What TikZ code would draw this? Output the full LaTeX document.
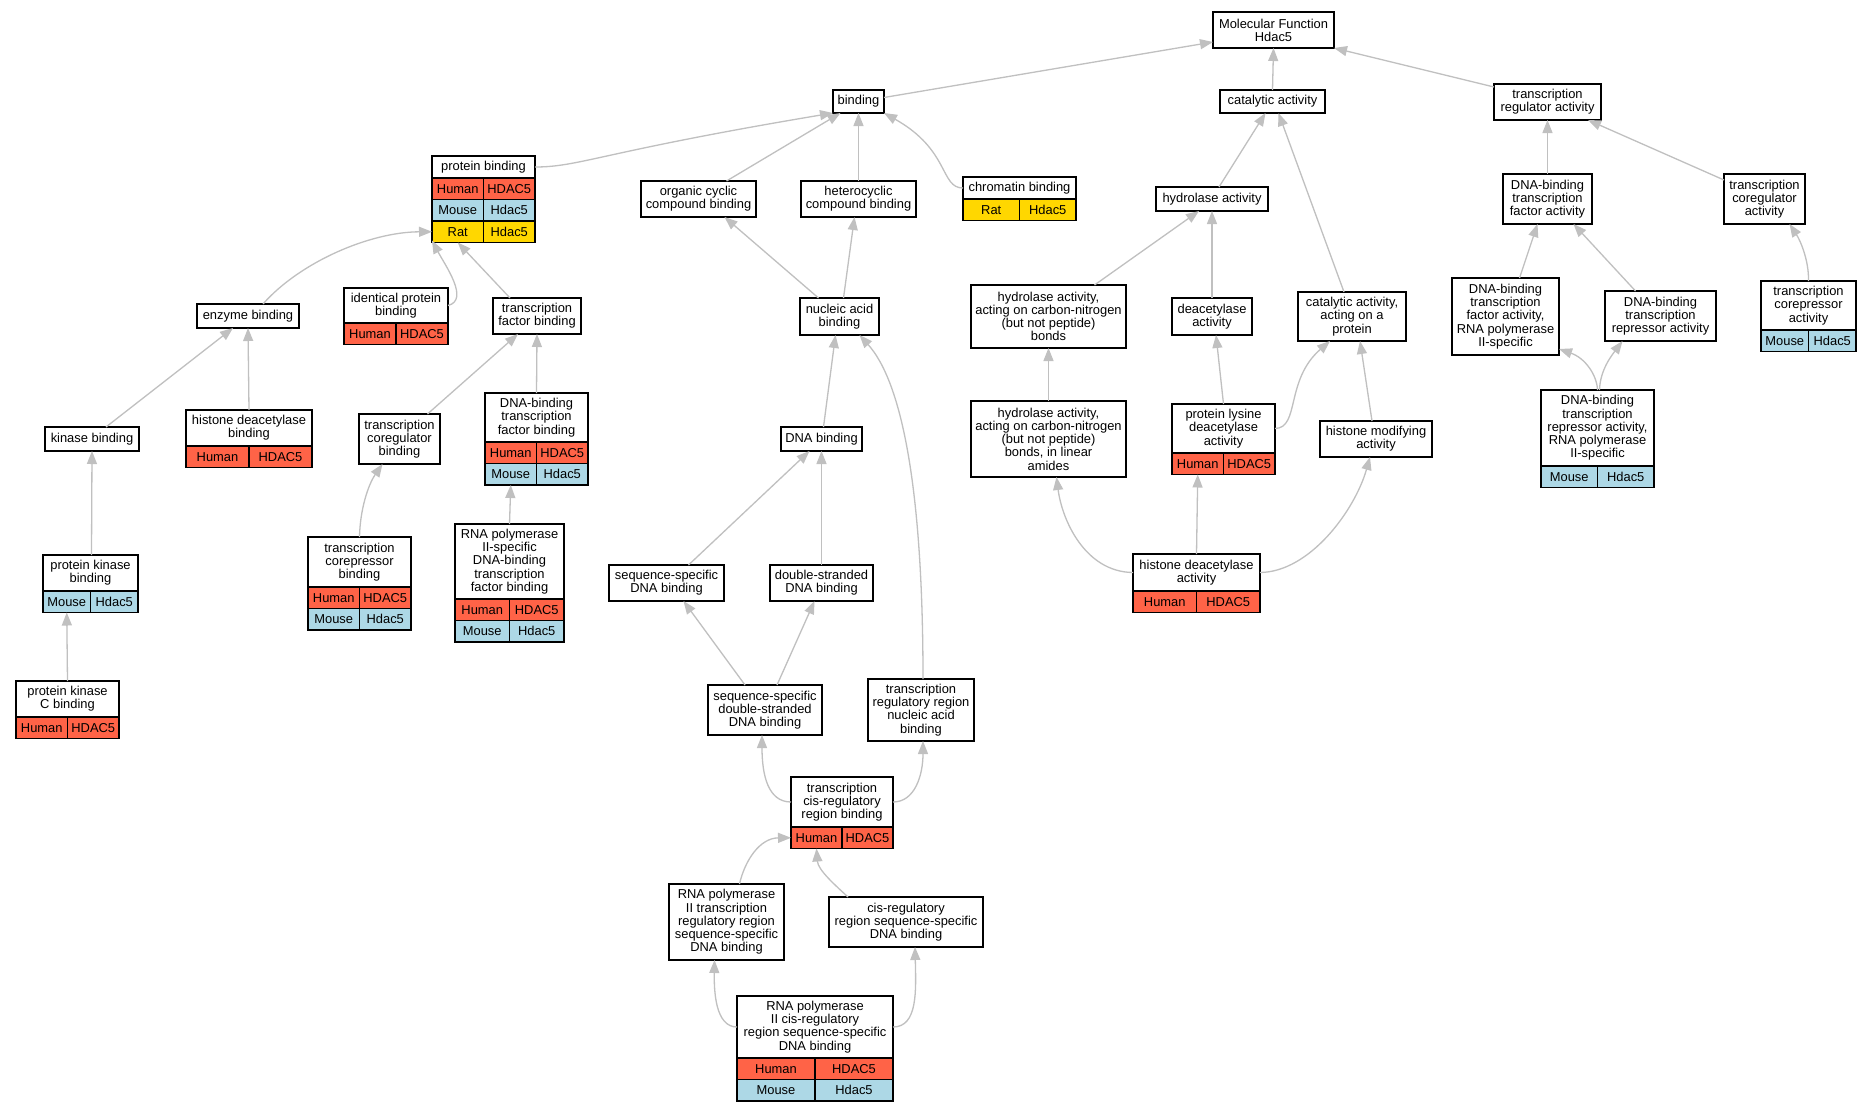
\documentclass[tikz,border=0pt]{standalone}
\usepackage{fontspec}
\setmainfont{Liberation Sans}
\usetikzlibrary{arrows.meta}
\definecolor{tomato}{HTML}{FF6347}
\definecolor{lightblue}{HTML}{ADD8E6}
\definecolor{gold}{HTML}{FFD700}
\definecolor{edgegray}{HTML}{C0C0C0}
\newcommand{\gofont}{\fontsize{12.9}{13.2}\selectfont}
\begin{document}
\begin{tikzpicture}[x=1pt, y=-1pt,
  term/.style={draw, fill=white, line width=1.2pt, align=center, inner sep=0pt, outer sep=0pt, font=\gofont},
  cell/.style={draw, line width=1.2pt, inner sep=0pt, outer sep=0pt, minimum height=21.5, font=\gofont},
  human/.style={cell, fill=tomato},
  mouse/.style={cell, fill=lightblue},
  rat/.style={cell, fill=gold},
  isa/.style={draw=edgegray, line width=1.3pt, -{Triangle[length=13pt,width=10pt]}}]
  \path[fill=white] (0,0) rectangle (1872,1112);

  % top of the tree
  \node[term, minimum width=121, minimum height=36] (mf) at (1273.5,30) {Molecular Function\\Hdac5};
  \node[term, minimum width=105, minimum height=23] (cat) at (1272.5,101.5) {catalytic activity};
  \node[term, minimum width=107, minimum height=36] (tra) at (1547.5,102) {transcription\\regulator activity};
  \node[term, minimum width=51, minimum height=23] (bind) at (858.5,101.5) {binding};

  \node[term, minimum width=113, minimum height=22] (chrom) at (1019.5,188) {chromatin binding};
  \node[rat, minimum width=56.5, anchor=north west] (chroms1) at (chrom.south west) {Rat};
  \node[rat, minimum width=56.5, anchor=north east] (chromg1) at (chrom.south east) {Hdac5};
  \node[term, minimum width=112, minimum height=24] (hyd) at (1212,199) {hydrolase activity};
  \node[term, minimum width=89, minimum height=50] (dtf) at (1547.5,199) {DNA-binding\\transcription\\factor activity};
  \node[term, minimum width=81, minimum height=50] (tca) at (1764.5,199) {transcription\\coregulator\\activity};
  \node[term, minimum width=103, minimum height=22] (pb) at (483.5,167) {protein binding};
  \node[human, minimum width=51.5, anchor=north west] (pbs1) at (pb.south west) {Human};
  \node[human, minimum width=51.5, anchor=north east] (pbg1) at (pb.south east) {HDAC5};
  \node[mouse, minimum width=51.5, anchor=north west] (pbs2) at (pbs1.south west) {Mouse};
  \node[mouse, minimum width=51.5, anchor=north east] (pbg2) at (pbg1.south east) {Hdac5};
  \node[rat, minimum width=51.5, anchor=north west] (pbs3) at (pbs2.south west) {Rat};
  \node[rat, minimum width=51.5, anchor=north east] (pbg3) at (pbg2.south east) {Hdac5};
  \node[term, minimum width=115, minimum height=36] (occ) at (698.5,199) {organic cyclic\\compound binding};
  \node[term, minimum width=115, minimum height=36] (hcc) at (858.5,199) {heterocyclic\\compound binding};

  % third row
  \node[term, minimum width=155, minimum height=63] (hcn) at (1048.5,316.5) {hydrolase activity,\\acting on carbon-nitrogen\\(but not peptide)\\bonds};
  \node[term, minimum width=80, minimum height=37] (deac) at (1212,316.5) {deacetylase\\activity};
  \node[term, minimum width=108, minimum height=49] (cap) at (1352,316.5) {catalytic activity,\\acting on a\\protein};
  \node[term, minimum width=107, minimum height=77] (dtf2) at (1505.5,316.5) {DNA-binding\\transcription\\factor activity,\\RNA polymerase\\II-specific};
  \node[term, minimum width=111, minimum height=50] (dtr) at (1660.5,316) {DNA-binding\\transcription\\repressor activity};
  \node[term, minimum width=95, minimum height=49] (tcpa) at (1808.5,305.5) {transcription\\corepressor\\activity};
  \node[mouse, minimum width=47.5, anchor=north west] (tcpas1) at (tcpa.south west) {Mouse};
  \node[mouse, minimum width=47.5, anchor=north east] (tcpag1) at (tcpa.south east) {Hdac5};
  \node[term, minimum width=102, minimum height=24] (enz) at (248,316) {enzyme binding};
  \node[term, minimum width=104, minimum height=35] (idp) at (396,305.5) {identical protein\\binding};
  \node[human, minimum width=52, anchor=north west] (idps1) at (idp.south west) {Human};
  \node[human, minimum width=52, anchor=north east] (idpg1) at (idp.south east) {HDAC5};
  \node[term, minimum width=88, minimum height=36] (tfb) at (537,316) {transcription\\factor binding};
  \node[term, minimum width=79, minimum height=37] (nab) at (839.5,316.5) {nucleic acid\\binding};

  % fourth row
  \node[term, minimum width=155, minimum height=76] (hcnl) at (1048.5,439) {hydrolase activity,\\acting on carbon-nitrogen\\(but not peptide)\\bonds, in linear\\amides};
  \node[term, minimum width=103, minimum height=49] (pld) at (1223.5,428.5) {protein lysine\\deacetylase\\activity};
  \node[human, minimum width=51.5, anchor=north west] (plds1) at (pld.south west) {Human};
  \node[human, minimum width=51.5, anchor=north east] (pldg1) at (pld.south east) {HDAC5};
  \node[term, minimum width=112, minimum height=36] (hma) at (1376,439) {histone modifying\\activity};
  \node[term, minimum width=113, minimum height=76] (dtr2) at (1597.5,428) {DNA-binding\\transcription\\repressor activity,\\RNA polymerase\\II-specific};
  \node[mouse, minimum width=56.5, anchor=north west] (dtr2s1) at (dtr2.south west) {Mouse};
  \node[mouse, minimum width=56.5, anchor=north east] (dtr2g1) at (dtr2.south east) {Hdac5};
  \node[term, minimum width=94, minimum height=24] (kin) at (92,439) {kinase binding};
  \node[term, minimum width=126, minimum height=36] (hdb) at (249,428) {histone deacetylase\\binding};
  \node[human, minimum width=63, anchor=north west] (hdbs1) at (hdb.south west) {Human};
  \node[human, minimum width=63, anchor=north east] (hdbg1) at (hdb.south east) {HDAC5};
  \node[term, minimum width=81, minimum height=50] (tcb) at (399.5,439) {transcription\\coregulator\\binding};
  \node[term, minimum width=103, minimum height=49] (dtfb) at (536.5,417.5) {DNA-binding\\transcription\\factor binding};
  \node[human, minimum width=51.5, anchor=north west] (dtfbs1) at (dtfb.south west) {Human};
  \node[human, minimum width=51.5, anchor=north east] (dtfbg1) at (dtfb.south east) {HDAC5};
  \node[mouse, minimum width=51.5, anchor=north west] (dtfbs2) at (dtfbs1.south west) {Mouse};
  \node[mouse, minimum width=51.5, anchor=north east] (dtfbg2) at (dtfbg1.south east) {Hdac5};
  \node[term, minimum width=81, minimum height=24] (dna) at (821.5,439) {DNA binding};

  % fifth row
  \node[term, minimum width=127, minimum height=37] (hda) at (1196.5,572.5) {histone deacetylase\\activity};
  \node[human, minimum width=63.5, anchor=north west] (hdas1) at (hda.south west) {Human};
  \node[human, minimum width=63.5, anchor=north east] (hdag1) at (hda.south east) {HDAC5};
  \node[term, minimum width=95, minimum height=36] (pkb) at (90.5,573) {protein kinase\\binding};
  \node[mouse, minimum width=47.5, anchor=north west] (pkbs1) at (pkb.south west) {Mouse};
  \node[mouse, minimum width=47.5, anchor=north east] (pkbg1) at (pkb.south east) {Hdac5};
  \node[term, minimum width=103, minimum height=50] (tcrb) at (359.5,562) {transcription\\corepressor\\binding};
  \node[human, minimum width=51.5, anchor=north west] (tcrbs1) at (tcrb.south west) {Human};
  \node[human, minimum width=51.5, anchor=north east] (tcrbg1) at (tcrb.south east) {HDAC5};
  \node[mouse, minimum width=51.5, anchor=north west] (tcrbs2) at (tcrbs1.south west) {Mouse};
  \node[mouse, minimum width=51.5, anchor=north east] (tcrbg2) at (tcrbg1.south east) {Hdac5};
  \node[term, minimum width=109, minimum height=75] (rdtfb) at (509.5,561.5) {RNA polymerase\\II-specific\\DNA-binding\\transcription\\factor binding};
  \node[human, minimum width=54.5, anchor=north west] (rdtfbs1) at (rdtfb.south west) {Human};
  \node[human, minimum width=54.5, anchor=north east] (rdtfbg1) at (rdtfb.south east) {HDAC5};
  \node[mouse, minimum width=54.5, anchor=north west] (rdtfbs2) at (rdtfbs1.south west) {Mouse};
  \node[mouse, minimum width=54.5, anchor=north east] (rdtfbg2) at (rdtfbg1.south east) {Hdac5};
  \node[term, minimum width=115, minimum height=36] (ssd) at (666.5,583) {sequence-specific\\DNA binding};
  \node[term, minimum width=103, minimum height=36] (dsd) at (821.5,583) {double-stranded\\DNA binding};

  % lower part
  \node[term, minimum width=103, minimum height=36] (pkc) at (67.5,699) {protein kinase\\C binding};
  \node[human, minimum width=51.5, anchor=north west] (pkcs1) at (pkc.south west) {Human};
  \node[human, minimum width=51.5, anchor=north east] (pkcg1) at (pkc.south east) {HDAC5};
  \node[term, minimum width=114, minimum height=50] (ssds) at (765,710) {sequence-specific\\double-stranded\\DNA binding};
  \node[term, minimum width=106, minimum height=62] (trr) at (921,710) {transcription\\regulatory region\\nucleic acid\\binding};
  \node[term, minimum width=102, minimum height=50] (tcis) at (842,802) {transcription\\cis-regulatory\\region binding};
  \node[human, minimum width=51, anchor=north west] (tciss1) at (tcis.south west) {Human};
  \node[human, minimum width=51, anchor=north east] (tcisg1) at (tcis.south east) {HDAC5};
  \node[term, minimum width=115, minimum height=76] (rtrr) at (726.5,922) {RNA polymerase\\II transcription\\regulatory region\\sequence-specific\\DNA binding};
  \node[term, minimum width=154, minimum height=50] (cisr) at (906,922) {cis-regulatory\\region sequence-specific\\DNA binding};
  \node[term, minimum width=156, minimum height=62] (rcis) at (815,1027) {RNA polymerase\\II cis-regulatory\\region sequence-specific\\DNA binding};
  \node[human, minimum width=78, anchor=north west] (rciss1) at (rcis.south west) {Human};
  \node[human, minimum width=78, anchor=north east] (rcisg1) at (rcis.south east) {HDAC5};
  \node[mouse, minimum width=78, anchor=north west] (rciss2) at (rciss1.south west) {Mouse};
  \node[mouse, minimum width=78, anchor=north east] (rcisg2) at (rcisg1.south east) {Hdac5};

  % is-a links, child to parent
  \draw[isa] ([yshift=4]bind.east) -- ([yshift=-12]mf.west);
  \draw[isa] (cat.north) -- (mf.south);
  \draw[isa] ([yshift=-3]tra.north west) -- (mf.south east);
  \draw[isa] (pb.east) .. controls (580,167) and (600,152) .. (bind.south west);
  \draw[isa] ([xshift=28]occ.north) -- ([xshift=-18]bind.south);
  \draw[isa] (hcc.north) -- (bind.south);
  \draw[isa] (chrom.west) .. controls (940,188) and (950,150) .. (bind.south east);
  \draw[isa] ([xshift=7]hyd.north) -- ([xshift=-7]cat.south);
  \draw[isa] ([xshift=-8]cap.north) -- ([xshift=6]cat.south);
  \draw[isa] (dtf.north) -- (tra.south);
  \draw[isa] ([yshift=-6]tca.north west) -- ([xshift=-13]tra.south east);
  \draw[isa] ([xshift=46]hcn.north) -- ([xshift=-13]hyd.south);
  \draw[isa] (deac.north) -- (hyd.south);
  \draw[isa] (tcpa.north) .. controls (1809,260) and (1800,240) .. ([xshift=25]tca.south);
  \draw[isa] ([xshift=14]dtf2.north) -- ([xshift=-10]dtf.south);
  \draw[isa] ([xshift=-25]dtr.north) -- ([xshift=26]dtf.south);
  \draw[isa] (hcnl.north) -- (hcn.south);
  \draw[isa] (pld.north) -- ([xshift=4]deac.south);
  \draw[isa] (pld.east) .. controls (1300,428) and (1285,380) .. ([xshift=-22]cap.south);
  \draw[isa] ([xshift=-4]hma.north) -- ([xshift=8]cap.south);
  \draw[isa] (dtr2.north) .. controls (1597,375) and (1585,358) .. ([yshift=6]dtf2.south east);
  \draw[isa] ([xshift=2]dtr2.north) .. controls (1600,370) and (1612,355) .. ([xshift=-38]dtr.south);
  \draw[isa] (hda.west) .. controls (1085,572) and (1062,520) .. ([xshift=8]hcnl.south);
  \draw[isa] (hda.north) -- (plds1.south);
  \draw[isa] (hda.east) .. controls (1310,572) and (1355,510) .. ([xshift=-6]hma.south);
  \draw[isa] ([xshift=15]enz.north) .. controls (300,262) and (370,232) .. (pbs3.west);
  \draw[isa] (idp.east) .. controls (470,300) and (445,265) .. ([yshift=2]pbs3.south west);
  \draw[isa] ([xshift=-27]tfb.north) -- (pbs3.south);
  \draw[isa] ([xshift=14]kin.north) -- ([xshift=-15]enz.south);
  \draw[isa] (hdb.north) -- (enz.south);
  \draw[isa] ([xshift=28]tcb.north) -- ([xshift=-19]tfb.south);
  \draw[isa] (dtfb.north) -- (tfb.south);
  \draw[isa] (tcrb.north) .. controls (360,510) and (368,485) .. ([xshift=-17]tcb.south);
  \draw[isa] (rdtfb.north) -- (dtfbs2.south);
  \draw[isa] ([xshift=1]pkb.north) -- (kin.south);
  \draw[isa] (pkc.north) -- (pkbs1.south);
  \draw[isa] ([xshift=-21]nab.north) -- ([xshift=26]occ.south);
  \draw[isa] ([xshift=4]nab.north) -- ([xshift=-4]hcc.south);
  \draw[isa] ([xshift=2]dna.north) -- ([xshift=-4]nab.south);
  \draw[isa] ([xshift=2]trr.north) .. controls (923,480) and (900,380) .. ([xshift=20]nab.south);
  \draw[isa] ([xshift=22]ssd.north) -- ([xshift=-12]dna.south);
  \draw[isa] (dsd.north) -- (dna.south);
  \draw[isa] ([xshift=-20]ssds.north) -- ([xshift=17]ssd.south);
  \draw[isa] ([xshift=12]ssds.north) -- ([xshift=-7]dsd.south);
  \draw[isa] (tcis.west) .. controls (768,802) and (762,775) .. ([xshift=-3]ssds.south);
  \draw[isa] (tcis.east) .. controls (915,802) and (923,775) .. ([xshift=2]trr.south);
  \draw[isa] ([xshift=13]rtrr.north) .. controls (745,860) and (760,838) .. (tciss1.west);
  \draw[isa] ([xshift=-58]cisr.north) .. controls (835,885) and (818,870) .. (tciss1.south);
  \draw[isa] (rcis.west) .. controls (715,1027) and (714,990) .. ([xshift=-12]rtrr.south);
  \draw[isa] (rcis.east) .. controls (918,1027) and (916,990) .. ([xshift=9]cisr.south);
\end{tikzpicture}
\end{document}
